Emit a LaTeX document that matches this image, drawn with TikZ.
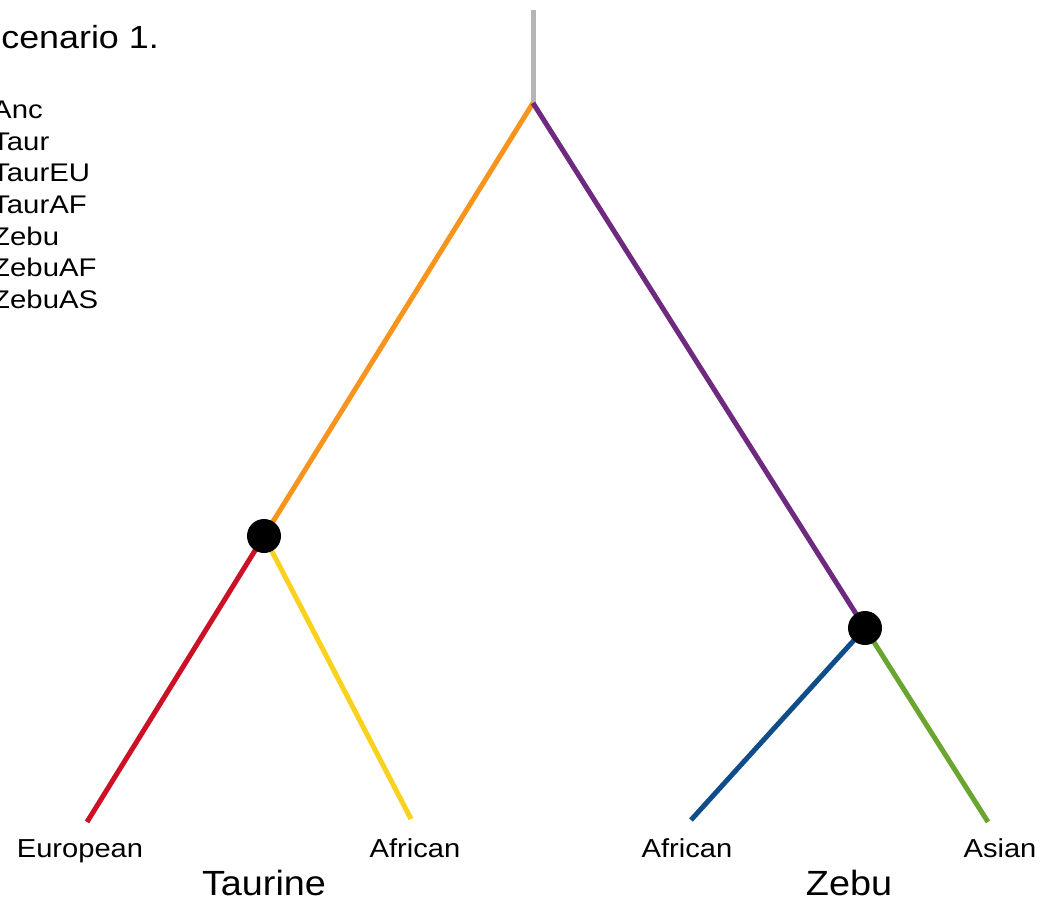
\documentclass[tikz,border=0pt]{standalone}
\usepackage{fontspec}
\setmainfont{Liberation Sans}
\definecolor{ancgray}{HTML}{B5B5B5}
\definecolor{taurorange}{HTML}{F7941D}
\definecolor{zebupurple}{HTML}{6E2A7E}
\definecolor{eured}{HTML}{CC1126}
\definecolor{tafyellow}{HTML}{F8D21C}
\definecolor{zafblue}{HTML}{0F4C8A}
\definecolor{zasgreen}{HTML}{6AA530}
\tikzset{
  branch/.style={line width=5pt},
  split/.style={circle, fill=black, inner sep=0pt, minimum size=34pt},
  leaf/.style={inner sep=0pt, anchor=base, font=\fontsize{26}{26}\selectfont, xscale=1.12},
  group/.style={inner sep=0pt, anchor=base, font=\fontsize{35}{35}\selectfont, xscale=1.08},
  legend/.style={inner sep=0pt, anchor=base west, font=\fontsize{25.5}{25.5}\selectfont, xscale=1.15},
}
\begin{document}
\begin{tikzpicture}[x=1pt,y=-1pt]
\useasboundingbox (0,0) rectangle (1045,905);
\clip (0,0) rectangle (1045,905);

% tree points
\coordinate (top) at (533,10);
\coordinate (root) at (533,103);
\coordinate (taurpt) at (264,536);
\coordinate (zebupt) at (865,628);
\coordinate (eu) at (87,822);
\coordinate (taf) at (411,819);
\coordinate (zaf) at (691,820);
\coordinate (zas) at (988,822);

% branches
\draw[branch, ancgray] (top) -- (root);
\draw[branch, taurorange] (root) -- (taurpt);
\draw[branch, zebupurple] (root) -- (zebupt);
\draw[branch, eured] (taurpt) -- (eu);
\draw[branch, tafyellow] (taurpt) -- (taf);
\draw[branch, zafblue] (zebupt) -- (zaf);
\draw[branch, zasgreen] (zebupt) -- (zas);

% split nodes
\node[split] (taur) at (taurpt) {};
\node[split] (zebu) at (zebupt) {};

% tip labels
\node[leaf] (leu) at (80,857) {European};
\node[leaf] (ltaf) at (415,857) {African};
\node[leaf] (lzaf) at (687,857) {African};
\node[leaf] (lzas) at (1000,857) {Asian};
\node[group] (gtaur) at (264,895) {Taurine};
\node[group] (gzebu) at (849,895) {Zebu};

% title and legend
\node[inner sep=0pt, anchor=base east, font=\fontsize{32}{32}\selectfont, xscale=1.12] (title) at (159,48) {Scenario 1.};
\node[legend] (k1) at (-8,118) {Anc};
\node[legend] (k2) at (-8,150) {Taur};
\node[legend] (k3) at (-8,181) {TaurEU};
\node[legend] (k4) at (-8,213) {TaurAF};
\node[legend] (k5) at (-8,245) {Zebu};
\node[legend] (k6) at (-8,276) {ZebuAF};
\node[legend] (k7) at (-8,308) {ZebuAS};
\end{tikzpicture}
\end{document}
